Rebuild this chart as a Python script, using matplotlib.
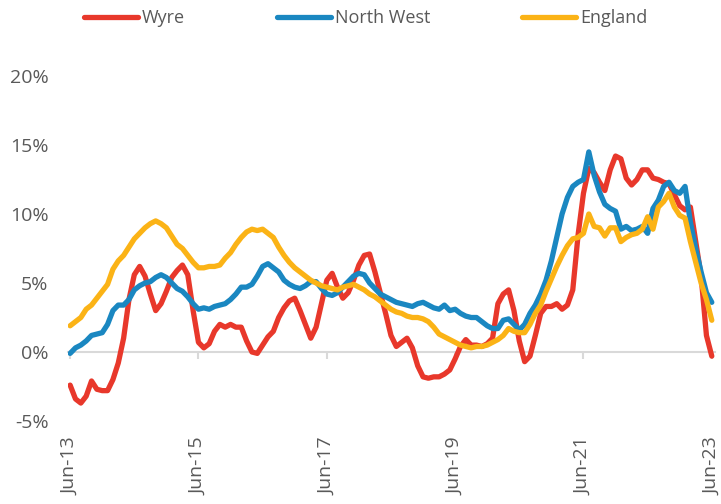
import matplotlib
matplotlib.use('Agg')
import matplotlib.pyplot as plt
import numpy as np

# monthly series, Jun-13 .. Jun-23 (% change)
wyre = [-2.4, -3.4, -3.7, -3.2, -2.1, -2.7, -2.8, -2.8, -2.0, -0.8,
        1.0, 3.8, 5.6, 6.2, 5.5, 4.2, 3.0, 3.5, 4.4, 5.4,
        5.9, 6.3, 5.6, 3.0, 0.7, 0.3, 0.6, 1.5, 2.0, 1.8,
        2.0, 1.8, 1.8, 0.8, 0.0, -0.1, 0.5, 1.1, 1.5, 2.5,
        3.2, 3.7, 3.9, 3.0, 2.0, 1.0, 1.8, 3.5, 5.2, 5.7,
        4.7, 3.9, 4.3, 5.2, 6.3, 7.0, 7.1, 5.8, 4.3, 2.8,
        1.2, 0.4, 0.7, 1.0, 0.3, -1.0, -1.8, -1.9, -1.8, -1.8,
        -1.6, -1.3, -0.5, 0.4, 0.9, 0.5, 0.5, 0.4, 0.6, 1.0,
        3.5, 4.2, 4.5, 3.0, 0.8, -0.7, -0.3, 1.2, 2.8, 3.3,
        3.3, 3.5, 3.1, 3.4, 4.5, 8.5, 11.5, 13.3, 13.0, 12.3,
        11.7, 13.2, 14.2, 14.0, 12.6, 12.1, 12.5, 13.2, 13.2, 12.6,
        12.5, 12.3, 12.2, 11.4, 10.6, 10.3, 10.5, 8.0, 5.5, 1.2,
        -0.3]

north_west = [-0.1, 0.3, 0.5, 0.8, 1.2, 1.3, 1.4, 2.0, 3.0, 3.4,
              3.4, 3.8, 4.5, 4.8, 5.0, 5.1, 5.4, 5.6, 5.4, 5.0,
              4.6, 4.4, 4.0, 3.5, 3.1, 3.2, 3.1, 3.3, 3.4, 3.5,
              3.8, 4.2, 4.7, 4.7, 4.9, 5.5, 6.2, 6.4, 6.1, 5.8,
              5.2, 4.9, 4.7, 4.6, 4.8, 5.1, 5.1, 4.6, 4.2, 4.1,
              4.3, 4.7, 5.1, 5.5, 5.7, 5.6, 5.0, 4.6, 4.2, 4.0,
              3.8, 3.6, 3.5, 3.4, 3.3, 3.5, 3.6, 3.4, 3.2, 3.1,
              3.4, 3.0, 3.1, 2.8, 2.6, 2.5, 2.5, 2.2, 1.9, 1.7,
              1.7, 2.3, 2.4, 2.0, 1.6, 2.0, 2.8, 3.4, 4.2, 5.2,
              6.6, 8.3, 10.0, 11.2, 12.0, 12.3, 12.5, 14.5, 12.8, 11.6,
              10.7, 10.4, 10.2, 8.9, 9.1, 8.8, 8.9, 9.1, 8.6, 10.4,
              11.0, 12.0, 12.3, 11.7, 11.5, 12.0, 9.4, 7.5, 5.8, 4.3,
              3.6]

england = [1.9, 2.2, 2.5, 3.1, 3.4, 3.9, 4.4, 4.9, 6.0, 6.6,
           7.0, 7.6, 8.2, 8.6, 9.0, 9.3, 9.5, 9.3, 9.0, 8.4,
           7.8, 7.5, 7.0, 6.5, 6.1, 6.1, 6.2, 6.2, 6.3, 6.8,
           7.2, 7.8, 8.3, 8.7, 8.9, 8.8, 8.9, 8.6, 8.3, 7.6,
           7.0, 6.5, 6.1, 5.8, 5.5, 5.2, 5.0, 4.8, 4.7, 4.6,
           4.5, 4.7, 4.8, 4.9, 4.7, 4.5, 4.2, 4.0, 3.7, 3.4,
           3.1, 2.9, 2.8, 2.6, 2.5, 2.5, 2.4, 2.2, 1.8, 1.3,
           1.1, 0.9, 0.7, 0.5, 0.4, 0.3, 0.4, 0.4, 0.5, 0.7,
           0.9, 1.2, 1.7, 1.5, 1.4, 1.4, 2.0, 2.8, 3.4, 4.4,
           5.3, 6.2, 7.0, 7.7, 8.2, 8.3, 8.6, 10.0, 9.1, 9.0,
           8.4, 9.0, 9.0, 8.0, 8.3, 8.5, 8.6, 8.9, 9.8, 8.9,
           10.5, 10.9, 11.5, 10.5, 9.9, 9.7, 8.0, 6.5, 5.0, 3.8,
           2.3]

tick_labels = ['Jun-13', 'Jun-15', 'Jun-17', 'Jun-19', 'Jun-21', 'Jun-23']
y_ticks = [-5, 0, 5, 10, 15, 20]

months = np.arange(len(wyre))
tick_pos = np.arange(0, len(wyre), 24)

plt.rcParams['font.family'] = ['Open Sans', 'DejaVu Sans']
grey = '#595959'

fig = plt.figure(figsize=(7.21, 5.04), dpi=100)
ax = fig.add_axes([68 / 721, 83 / 504, 647 / 721, 345 / 504])

ax.plot(months, wyre, color='#e8382b', lw=3.8, label='Wyre', solid_capstyle='round')
ax.plot(months, north_west, color='#1a87c1', lw=3.8, label='North West', solid_capstyle='round')
ax.plot(months, england, color='#fbb316', lw=3.8, label='England', solid_capstyle='round')

ax.set_xlim(-0.4, 120.6)
ax.set_ylim(-5, 20)
ax.set_yticks(y_ticks)
ax.set_yticklabels([f'{v}%' for v in y_ticks])
ax.tick_params(axis='y', length=0, pad=14, labelsize=14, labelcolor=grey)

for s in ['top', 'right', 'left']:
    ax.spines[s].set_visible(False)
ax.spines['bottom'].set_position(('data', 0))
ax.spines['bottom'].set_color('#d9d9d9')
ax.spines['bottom'].set_linewidth(1.5)
ax.spines['bottom'].set_zorder(0)
ax.set_xticks(tick_pos)
ax.tick_params(axis='x', length=5, width=1.5, color='#d9d9d9', labelbottom=False)

# labels sit at the bottom of the plot, not on the zero line
sec = ax.secondary_xaxis(0)
sec.set_xticks(tick_pos)
sec.set_xticklabels(tick_labels, rotation=90)
sec.tick_params(length=0, pad=12, labelsize=14, labelcolor=grey)
sec.spines['bottom'].set_visible(False)

fig.legend(loc='center', bbox_to_anchor=(0.507, 0.964), ncol=3, frameon=False,
           fontsize=13, handlelength=3.0, handletextpad=0.2, columnspacing=5.1,
           labelcolor=grey)

fig.savefig('out.png', dpi=100)
